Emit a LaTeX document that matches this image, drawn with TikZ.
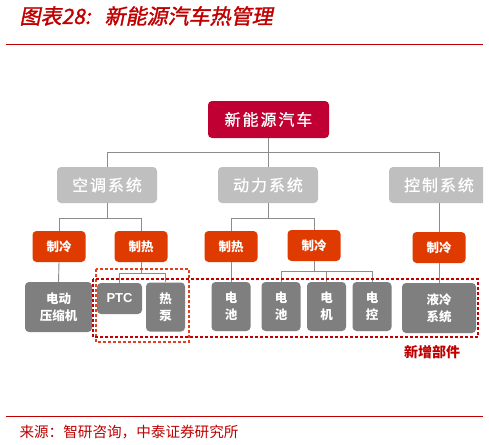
\documentclass[tikz,border=0pt]{standalone}
\usepackage{fontspec}
\usepackage{tikz}

\newfontfamily\cjk{Noto Sans CJK SC}
\newfontfamily\cjksp[LetterSpace=12,FakeBold=0.8]{Noto Sans CJK SC}
\newfontfamily\cjktit[FakeSlant=0.2,FakeBold=1.5]{Noto Sans CJK SC}
\newfontfamily\lat{Liberation Sans}

\begin{document}
\begin{tikzpicture}[x=1pt,y=-1pt,
  box/.style={rounded corners=4pt, text=white, inner sep=0pt, align=center},
  carBox/.style={box, fill=colCar, minimum width=121pt, minimum height=37pt,
    font=\cjksp\fontsize{16}{18}\selectfont},
  sysBox/.style={box, fill=colSys, minimum width=100pt, minimum height=36pt,
    font=\cjksp\fontsize{16}{18}\selectfont},
  modeBox/.style={box, fill=colMode, minimum width=53pt, minimum height=31pt,
    font=\cjk\bfseries\fontsize{12.5}{14}\selectfont},
  partBox/.style={box, fill=colPart, minimum width=39pt, minimum height=49pt,
    font=\cjk\bfseries\fontsize{12.5}{17}\selectfont},
  conn/.style={draw=lineGray, line width=0.9pt},
  newDash/.style={draw=colNew, line width=1.2pt, dash pattern=on 3pt off 2pt},
]

% Colori
\definecolor{colCar}{HTML}{C00032}
\definecolor{colSys}{HTML}{BFBFBF}
\definecolor{colMode}{HTML}{DF3A00}
\definecolor{colPart}{HTML}{7F7F7F}
\definecolor{colNew}{HTML}{C00000}
\definecolor{colPtc}{HTML}{E2401C}
\definecolor{lineGray}{HTML}{8C8C8C}
\definecolor{colTit}{HTML}{C00000}

\useasboundingbox[fill=white] (0,0) rectangle (489,444);

% Titolo e righe rosse
\node[anchor=west, text=colTit, font=\cjktit\fontsize{21}{23}\selectfont] (tit) at (16,16)
  {图表28:\hspace{14pt}新能源汽车热管理};
\draw[colTit, line width=1pt] (6,45) -- (483,45);
\draw[colTit, line width=1pt] (6,416) -- (483,416);
\node[anchor=west, text=colTit, font=\cjk\fontsize{14.6}{16}\selectfont] (src) at (16,432)
  {来源：智研咨询，中泰证券研究所};

% Livello 1
\node[carBox] (car) at (268.5,119.5) {新能源汽车};

% Livello 2
\node[sysBox] (kt) at (107,185) {空调系统};
\node[sysBox] (dl) at (268,185) {动力系统};
\begin{scope}
  \clip (380,150) rectangle (483,210);
  \node[sysBox] (kz) at (439,185) {控制系统};
\end{scope}

% Livello 3
\node[modeBox] (ktCool) at (59,246.5) {制冷};
\node[modeBox] (ktHeat) at (141,246.5) {制热};
\node[modeBox] (dlHeat) at (231,246.5) {制热};
\node[modeBox] (dlCool) at (314,245.5) {制冷};
\node[modeBox] (kzCool) at (439,247.5) {制冷};

% Livello 4
\node[partBox, minimum width=67pt, minimum height=50pt] (comp) at (58.5,307) {电动\\压缩机};
\node[partBox, minimum width=45pt, minimum height=31pt,
  font=\lat\bfseries\fontsize{13}{15}\selectfont] (ptc) at (119.5,298.5) {PTC};
\node[partBox] (hp) at (165.5,307) {热\\泵};
\node[partBox] (bat1) at (231,306.5) {电\\池};
\node[partBox] (bat2) at (281,306.5) {电\\池};
\node[partBox] (mot) at (326.5,306.5) {电\\机};
\node[partBox] (ctl) at (372,306.5) {电\\控};
\node[partBox, minimum width=74pt, minimum height=50pt] (liq) at (439,308) {液冷\\系统};

% Collegamenti
\draw[conn] (car.south) -- ++(0,14) -| (kt.north);
\draw[conn] (car.south) -- ++(0,14) -| (dl.north);
\draw[conn] (car.south) -- ++(0,14) -| (kz.north);
\draw[conn] (kt.south) -- ++(0,15) -| (ktCool.north);
\draw[conn] (kt.south) -- ++(0,15) -| (ktHeat.north);
\draw[conn] (dl.south) -- ++(0,15) -| (dlHeat.north);
\draw[conn] (dl.south) -- ++(0,15) -| (dlCool.north);
\draw[conn] (kz.south) -- (kzCool.north);
\draw[conn] (ktCool.south) -- (comp.north);
\draw[conn] (ktHeat.south) -- ++(0,11) -| (ptc.north);
\draw[conn] (ktHeat.south) -- ++(0,11) -| (hp.north);
\draw[conn] (dlHeat.south) -- (bat1.north);
\draw[conn] (dlCool.south) -- ++(0,10) -| (bat2.north);
\draw[conn] (dlCool.south) -- ++(0,10) -| (mot.north);
\draw[conn] (dlCool.south) -- ++(0,10) -| (ctl.north);
\draw[conn] (kzCool.south) -- (liq.north);

% Riquadri tratteggiati
\draw[newDash, draw=colPtc] (96,269) rectangle (189,342);
\draw[newDash] (93,279) rectangle (478,337);
\node[text=colNew, font=\cjk\bfseries\fontsize{14}{16}\selectfont] (newLbl) at (432,352) {新增部件};

\end{tikzpicture}
\end{document}
